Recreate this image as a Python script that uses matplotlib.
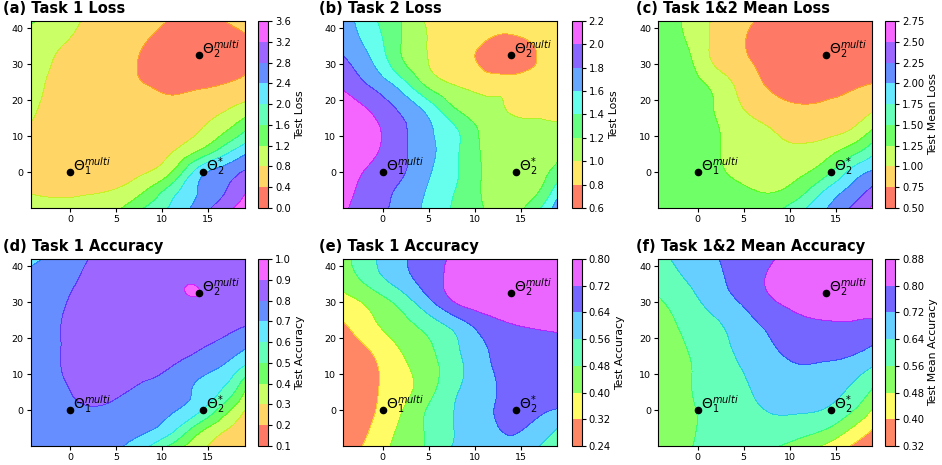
import numpy as np
import matplotlib.pyplot as plt
import matplotlib.tri as mtri

# grid nodes
xs = [-4.3, -1, 2, 5, 8, 11, 14, 17, 19]
ys = [-10, -5, 0, 6, 12, 18, 24, 30, 36, 42]

# rows go from y=-10 (bottom) to y=42 (top)
task1_loss = [
    [0.95, 0.90, 0.93, 1.12, 1.60, 2.06, 2.57, 3.06, 3.40],
    [0.77, 0.73, 0.75, 0.82, 1.15, 1.78, 2.42, 2.80, 3.15],
    [0.70, 0.62, 0.58, 0.63, 0.77, 1.18, 2.20, 2.60, 2.84],
    [0.69, 0.58, 0.53, 0.55, 0.62, 0.77, 1.20, 1.85, 2.25],
    [0.77, 0.61, 0.54, 0.50, 0.52, 0.62, 0.78, 1.15, 1.52],
    [0.86, 0.66, 0.57, 0.50, 0.48, 0.46, 0.58, 0.75, 0.93],
    [0.89, 0.71, 0.60, 0.50, 0.41, 0.36, 0.36, 0.43, 0.50],
    [0.92, 0.75, 0.62, 0.50, 0.37, 0.25, 0.18, 0.24, 0.36],
    [1.00, 0.82, 0.70, 0.55, 0.41, 0.28, 0.20, 0.25, 0.35],
    [1.25, 0.95, 0.75, 0.62, 0.50, 0.38, 0.30, 0.41, 0.50],
]
task2_loss = [
    [2.03, 1.87, 1.73, 1.55, 1.36, 1.20, 1.14, 1.37, 1.70],
    [2.07, 1.90, 1.76, 1.58, 1.39, 1.18, 1.10, 1.19, 1.50],
    [2.12, 1.95, 1.83, 1.62, 1.42, 1.18, 1.06, 1.12, 1.27],
    [2.18, 2.03, 1.85, 1.65, 1.43, 1.17, 1.08, 1.10, 1.15],
    [2.18, 2.04, 1.85, 1.63, 1.41, 1.15, 1.08, 1.05, 1.04],
    [2.12, 1.95, 1.75, 1.50, 1.18, 1.07, 0.98, 0.96, 0.96],
    [1.97, 1.77, 1.52, 1.16, 1.00, 0.92, 0.93, 0.90, 0.92],
    [1.85, 1.60, 1.25, 1.00, 0.87, 0.77, 0.68, 0.82, 0.86],
    [1.73, 1.50, 1.20, 0.99, 0.88, 0.80, 0.74, 0.83, 0.88],
    [1.70, 1.43, 1.20, 0.97, 0.90, 0.86, 0.86, 0.87, 0.88],
]
mean_loss = [
    [1.36, 1.33, 1.32, 1.32, 1.40, 1.66, 1.99, 2.30, 2.53],
    [1.37, 1.33, 1.30, 1.27, 1.23, 1.38, 1.77, 2.10, 2.30],
    [1.38, 1.34, 1.28, 1.20, 1.15, 1.20, 1.43, 1.86, 2.03],
    [1.40, 1.36, 1.27, 1.15, 1.07, 1.05, 1.15, 1.40, 1.65],
    [1.42, 1.38, 1.27, 1.10, 1.00, 0.90, 0.90, 1.02, 1.24],
    [1.45, 1.38, 1.23, 0.99, 0.85, 0.77, 0.79, 0.86, 0.95],
    [1.45, 1.35, 1.18, 0.90, 0.72, 0.65, 0.65, 0.72, 0.77],
    [1.42, 1.30, 0.97, 0.80, 0.65, 0.58, 0.56, 0.58, 0.60],
    [1.38, 1.23, 0.93, 0.76, 0.62, 0.57, 0.55, 0.56, 0.57],
    [1.33, 1.20, 0.95, 0.80, 0.68, 0.62, 0.60, 0.60, 0.60],
]
task1_acc = [
    [0.74, 0.74, 0.74, 0.72, 0.63, 0.48, 0.33, 0.25, 0.22],
    [0.74, 0.75, 0.75, 0.74, 0.72, 0.64, 0.45, 0.31, 0.24],
    [0.74, 0.77, 0.79, 0.77, 0.74, 0.71, 0.62, 0.43, 0.30],
    [0.74, 0.79, 0.82, 0.82, 0.79, 0.76, 0.68, 0.58, 0.42],
    [0.74, 0.80, 0.82, 0.82, 0.81, 0.80, 0.75, 0.68, 0.59],
    [0.74, 0.80, 0.83, 0.84, 0.84, 0.83, 0.81, 0.77, 0.72],
    [0.74, 0.80, 0.83, 0.85, 0.86, 0.86, 0.85, 0.83, 0.81],
    [0.74, 0.79, 0.83, 0.85, 0.87, 0.885, 0.893, 0.87, 0.85],
    [0.73, 0.77, 0.82, 0.85, 0.86, 0.885, 0.893, 0.86, 0.85],
    [0.68, 0.74, 0.80, 0.83, 0.85, 0.86, 0.86, 0.85, 0.84],
]
task2_acc = [
    [0.28, 0.35, 0.43, 0.49, 0.57, 0.60, 0.62, 0.56, 0.53],
    [0.26, 0.33, 0.415, 0.495, 0.565, 0.615, 0.65, 0.61, 0.56],
    [0.27, 0.315, 0.395, 0.49, 0.565, 0.62, 0.665, 0.655, 0.635],
    [0.27, 0.31, 0.37, 0.45, 0.55, 0.61, 0.67, 0.685, 0.69],
    [0.27, 0.31, 0.38, 0.45, 0.535, 0.62, 0.67, 0.69, 0.70],
    [0.28, 0.34, 0.41, 0.47, 0.55, 0.635, 0.67, 0.69, 0.70],
    [0.315, 0.39, 0.45, 0.52, 0.60, 0.68, 0.72, 0.735, 0.74],
    [0.37, 0.43, 0.51, 0.62, 0.725, 0.76, 0.77, 0.77, 0.77],
    [0.43, 0.52, 0.60, 0.68, 0.75, 0.77, 0.78, 0.78, 0.78],
    [0.46, 0.55, 0.625, 0.68, 0.74, 0.77, 0.78, 0.78, 0.78],
]
mean_acc = [
    [0.51, 0.555, 0.58, 0.59, 0.57, 0.53, 0.465, 0.39, 0.35],
    [0.51, 0.55, 0.58, 0.60, 0.615, 0.60, 0.565, 0.47, 0.405],
    [0.51, 0.55, 0.585, 0.615, 0.645, 0.648, 0.635, 0.56, 0.475],
    [0.51, 0.555, 0.595, 0.63, 0.67, 0.68, 0.665, 0.625, 0.56],
    [0.51, 0.555, 0.60, 0.645, 0.685, 0.715, 0.705, 0.68, 0.64],
    [0.52, 0.565, 0.615, 0.665, 0.715, 0.745, 0.755, 0.745, 0.72],
    [0.53, 0.58, 0.63, 0.69, 0.74, 0.775, 0.79, 0.79, 0.78],
    [0.55, 0.61, 0.675, 0.73, 0.79, 0.83, 0.86, 0.86, 0.855],
    [0.59, 0.645, 0.70, 0.76, 0.81, 0.84, 0.86, 0.86, 0.86],
    [0.62, 0.67, 0.715, 0.76, 0.795, 0.83, 0.85, 0.85, 0.85],
]

# contour levels (colorbar ticks)
levels_a = [0.0, 0.4, 0.8, 1.2, 1.6, 2.0, 2.4, 2.8, 3.2, 3.6]
levels_b = [0.6, 0.8, 1.0, 1.2, 1.4, 1.6, 1.8, 2.0, 2.2]
levels_c = [0.5, 0.75, 1.0, 1.25, 1.5, 1.75, 2.0, 2.25, 2.5, 2.75]
levels_d = [0.1, 0.2, 0.3, 0.4, 0.5, 0.6, 0.7, 0.8, 0.9, 1.0]
levels_e = [0.24, 0.32, 0.40, 0.48, 0.56, 0.64, 0.72, 0.80]
levels_f = [0.32, 0.40, 0.48, 0.56, 0.64, 0.72, 0.80, 0.88]

# marked points
pt_x = [0, 14, 14.5]
pt_y = [0, 32.5, 0]
pt_labels = [r'$\Theta_1^{multi}$', r'$\Theta_2^{multi}$', r'$\Theta_2^{*}$']

panels = [
    ('(a) Task 1 Loss', task1_loss, levels_a, 'Test Loss'),
    ('(b) Task 2 Loss', task2_loss, levels_b, 'Test Loss'),
    ('(c) Task 1&2 Mean Loss', mean_loss, levels_c, 'Test Mean Loss'),
    ('(d) Task 1 Accuracy', task1_acc, levels_d, 'Test Accuracy'),
    ('(e) Task 1 Accuracy', task2_acc, levels_e, 'Test Accuracy'),
    ('(f) Task 1&2 Mean Accuracy', mean_acc, levels_f, 'Test Mean Accuracy'),
]

W, H = 942, 465
fig = plt.figure(figsize=(W / 100, H / 100), dpi=100)

ax_left = [30.7, 343.3, 658.3]
cb_left = [258, 571.5, 885]
row_top = [21, 259]
row_bot = [208, 446]
title_x = [3, 319, 636]
title_y = [13, 251]

X, Y = np.meshgrid(xs, ys)
tri = mtri.Triangulation(X.ravel(), Y.ravel())
refiner = mtri.UniformTriRefiner(tri)

for i, (title, vals, levels, cblabel) in enumerate(panels):
    r, c = divmod(i, 3)
    b = 1 - row_bot[r] / H
    h = (row_bot[r] - row_top[r]) / H
    ax = fig.add_axes([ax_left[c] / W, b, 214 / W, h])
    cax = fig.add_axes([cb_left[c] / W, b, 10 / W, h])

    z = np.array(vals, dtype=float).ravel()
    interp = mtri.CubicTriInterpolator(tri, z, kind='min_E')
    tri_f, z_f = refiner.refine_field(z, triinterpolator=interp, subdiv=4)
    z_f = np.clip(z_f, levels[0] + 1e-6, levels[-1] - 1e-6)
    cs = ax.tricontourf(tri_f, z_f, levels=levels, cmap='gist_rainbow', alpha=0.6)

    ax.scatter(pt_x, pt_y, s=20, c='k', zorder=3)
    for px, py, lab in zip(pt_x, pt_y, pt_labels):
        ax.text(px + 0.3, py + 0.4, lab, fontsize=10, zorder=4)

    ax.set_xlim(-4.3, 19)
    ax.set_ylim(-10, 42)
    ax.set_xticks([0, 5, 10, 15])
    ax.set_yticks([0, 10, 20, 30, 40])
    ax.tick_params(labelsize=6.8, length=3, pad=2)

    cb = fig.colorbar(cs, cax=cax)
    cb.set_ticks(levels)
    cb.ax.tick_params(labelsize=7.2, length=3, pad=2)
    cb.set_label(cblabel, fontsize=7.8, labelpad=3)

    fig.text(title_x[c] / W, 1 - title_y[r] / H, title, fontsize=10.5,
             fontweight='bold', va='baseline', ha='left')

fig.savefig('out.png', dpi=100)
